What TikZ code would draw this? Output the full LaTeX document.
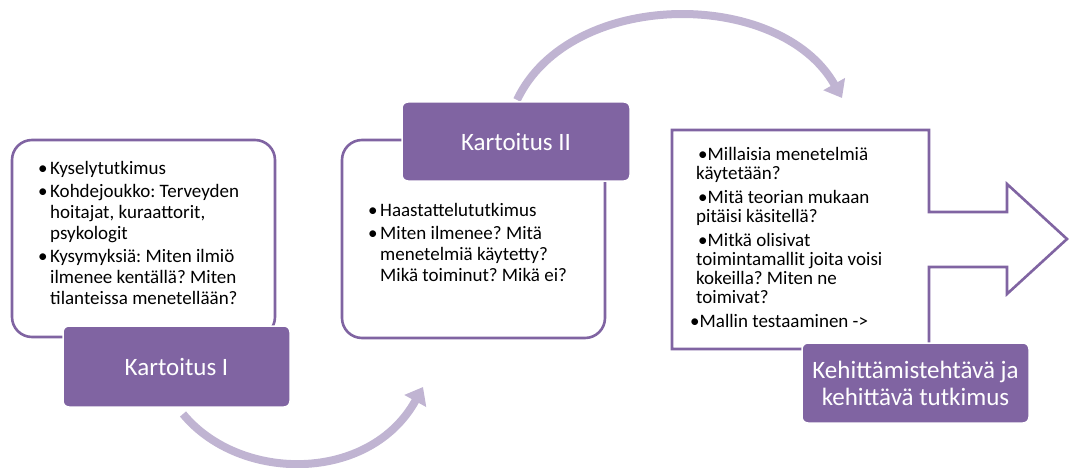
\documentclass[tikz,border=0pt]{standalone}
\usepackage{fontspec}
\setmainfont{Carlito}
\frenchspacing
\usetikzlibrary{arrows.meta}
\definecolor{Lila}{HTML}{8064A2}
\definecolor{LilaLight}{HTML}{C0B4D2}
\tikzset{
	panel/.style={draw=Lila, line width=2.6pt, fill=white, outer sep=0pt},
	tag/.style={fill=Lila, draw=white, line width=1.5pt, rounded corners=6pt, outer sep=0pt,
		text=white, font=\fontsize{25}{27}\selectfont, align=center, inner sep=0pt, anchor=north west},
	loop/.style={draw=LilaLight, line width=8pt, -{Triangle[width=24pt,length=16pt]}},
	body/.style={anchor=north west, inner sep=0pt, font=\fontsize{19}{21}\selectfont}
}
\begin{document}
\begin{tikzpicture}[x=1pt,y=-1pt]
\useasboundingbox (0,0) rectangle (1071,468);
%% Zone left
\def\a{12}
\def\b{140}
\node[panel, rounded corners=20pt, minimum width=263pt, minimum height=197pt, anchor=north west] (box1) at (\a,\b) {};
\node[body] (t1) at (\a+26,\b+20) {\begin{tabular}{@{}p{12pt}@{}l@{}}
	\textbullet & Kyselytutkimus\\[2pt]
	\textbullet & Kohdejoukko: Terveyden\\
	& hoitajat, kuraattorit,\\
	& psykologit\\[2pt]
	\textbullet & Kysymyksiä: Miten ilmiö\\
	& ilmenee kentällä? Miten\\
	& tilanteissa menetellään?
	\end{tabular}};
%% Zone central
\def\a{342}
\def\b{140}
\node[panel, rounded corners=20pt, minimum width=263pt, minimum height=198pt, anchor=north west] (box2) at (\a,\b) {};
\node[body] (t2) at (\a+26,\b+62) {\begin{tabular}{@{}p{12pt}@{}l@{}}
	\textbullet & Haastattelututkimus\\[2pt]
	\textbullet & Miten ilmenee? Mitä\\
	& menetelmiä käytetty?\\
	& Mikä toiminut? Mikä ei?
	\end{tabular}};
%% Zone right (arrow)
\def\a{672}
\def\b{130}
\draw[panel, fill=white] (\a,\b) -- (\a+257,\b)
	-- (\a+257,\b+82) -- (\a+335,\b+82)
	-- (\a+335,\b+54) -- (\a+395,\b+109) -- (\a+335,\b+164)
	-- (\a+335,\b+137) -- (\a+257,\b+137)
	-- (\a+257,\b+219) -- (\a,\b+219) -- cycle;
\node[body, font=\fontsize{19}{19}\selectfont] (t3) at (\a+24,\b+17) {\begin{tabular}{@{}l@{}}
	\hspace*{2pt}\textbullet Millaisia menetelmiä\\
	käytetään?\\[5pt]
	\hspace*{2pt}\textbullet Mitä teorian mukaan\\
	pitäisi käsitellä?\\[5pt]
	\hspace*{2pt}\textbullet Mitkä olisivat\\
	toimintamallit joita voisi\\
	kokeilla? Miten ne\\
	toimivat?\\[5pt]
	\hspace*{-6pt}\textbullet Mallin testaaminen ->
	\end{tabular}};
%% Loop arrows
\coordinate (s1) at (183,414);
\coordinate (e1) at (423,387);
\draw[loop] (s1) .. controls (240,483) and (370,483) .. (e1);
\coordinate (s2) at (517,100);
\coordinate (e2) at (842,98);
\draw[loop] (s2) .. controls (570,-12) and (780,-12) .. (e2);
%% Tags
\node[tag, minimum width=227pt, minimum height=81pt] (tag1) at (63,326) {Kartoitus I};
\node[tag, minimum width=228pt, minimum height=79pt] (tag2) at (402,102) {Kartoitus II};
\node[tag, minimum width=227pt, minimum height=80pt] (tag3) at (802,343) {Kehittämistehtävä ja\\kehittävä tutkimus};
\end{tikzpicture}
\end{document}
